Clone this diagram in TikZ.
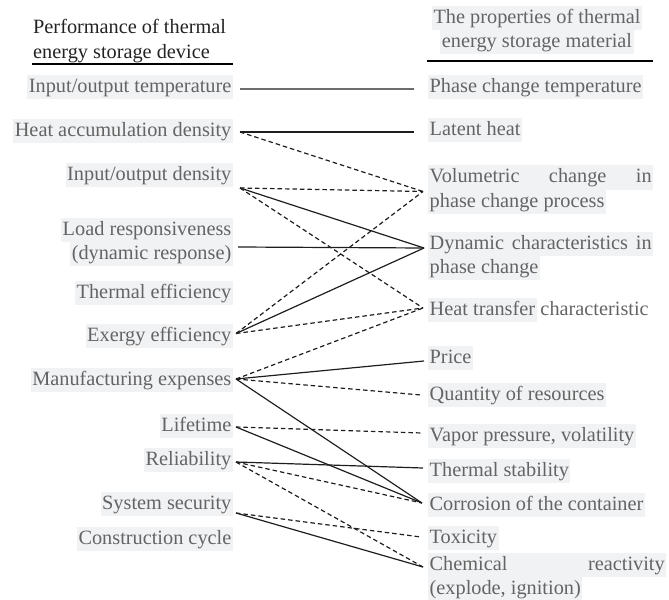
\documentclass[tikz,border=0pt]{standalone}
\usepackage{fontspec}
\setmainfont{Liberation Serif}
\usetikzlibrary{calc}
\definecolor{txt}{RGB}{100,100,100}
\definecolor{hdr}{RGB}{35,35,35}
\definecolor{hl}{RGB}{241,242,244}
\definecolor{ln}{RGB}{30,30,30}
\newcommand{\itemfont}{\fontsize{20.3bp}{24bp}\selectfont}
\tikzset{
  item/.style={fill=hl, text=txt, font=\itemfont, inner xsep=1.5bp, inner ysep=1bp, text height=16.5bp, text depth=5.5bp},
  lft/.style={item, anchor=east},
  rgt/.style={item, anchor=west},
  hd/.style={text=hdr, font=\itemfont, inner xsep=1bp, inner ysep=1bp, text height=16.5bp, text depth=5.5bp, anchor=west},
  link/.style={draw=ln, line width=1.2bp},
  dlink/.style={link, dash pattern=on 4.5bp off 3bp},
  rulebar/.style={draw=black, line width=2bp}
}
\begin{document}
\begin{tikzpicture}[x=1bp,y=-1bp]
\useasboundingbox (0,0) rectangle (669,600);
% headers
\node[hd] (hL1) at (32,28) {Performance of thermal};
\node[hd] (hL2) at (32,53) {energy storage device};
\node[item] (hR1) at (537,18.5) {The properties of thermal};
\node[item] (hR2) at (537,42.5) {energy storage material};
\draw[rulebar] (32,64.5) -- (233,64.5);
\draw[rulebar] (427,61) -- (653,61);
% left items
\node[lft] (l1) at (233,87) {Input/output temperature};
\node[lft] (l2) at (233,131) {Heat accumulation density};
\node[lft] (l3) at (233,175) {Input/output density};
\node[lft] (l4a) at (233,230) {Load responsiveness};
\node[lft] (l4b) at (233,253.5) {(dynamic response)};
\node[lft] (l5) at (233,292.5) {Thermal efficiency};
\node[lft] (l6) at (233,335.5) {Exergy efficiency};
\node[lft] (l7) at (233,379.5) {Manufacturing expenses};
\node[lft] (l8) at (233,425.5) {Lifetime};
\node[lft] (l9) at (233,459.5) {Reliability};
\node[lft] (l10) at (233,504) {System security};
\node[lft] (l11) at (233,538.5) {Construction cycle};
% right items
\node[rgt] (r1) at (428,87.5) {Phase change temperature};
\node[rgt] (r2) at (428,130) {Latent heat};
\node[rgt] (r3a) at (428,177.5) {\makebox[222bp][s]{Volumetric change in}};
\node[rgt] (r3b) at (428,201.5) {phase change process};
\node[rgt] (r4a) at (428,244) {\makebox[222bp][s]{Dynamic characteristics in}};
\node[rgt] (r4b) at (428,268) {phase change};
\node[rgt] (r5) at (428,310) {Heat transfer};
\node[anchor=base west, text=txt, font=\itemfont, inner xsep=0pt] (r5b) at ($(r5.base east)+(3.5,0)$) {characteristic};
\node[rgt] (r6) at (428,358) {Price};
\node[rgt] (r7) at (428,395) {Quantity of resources};
\node[rgt] (r8) at (428,435.5) {Vapor pressure, volatility};
\node[rgt] (r9) at (428,470.5) {Thermal stability};
\node[rgt] (r10) at (428,505) {Corrosion of the container};
\node[rgt] (r11) at (428,537.5) {Toxicity};
\node[rgt] (r12a) at (428,565) {\makebox[235bp][s]{Chemical reactivity}};
\node[rgt] (r12b) at (428,589) {(explode, ignition)};
% connection points
\coordinate (L1) at ($(l1.east)+(7,2)$);
\coordinate (L2) at ($(l2.east)+(7,1)$);
\coordinate (L3) at ($(l3.east)+(7,13)$);
\coordinate (L4) at ($(l4b.east)+(5,-6.5)$);
\coordinate (L6) at ($(l6.east)+(3,-2)$);
\coordinate (L7) at ($(l7.east)+(3,-0.5)$);
\coordinate (L8) at ($(l8.east)+(3,1.5)$);
\coordinate (L9) at ($(l9.east)+(3,2.5)$);
\coordinate (L10) at ($(l10.east)+(3,9)$);
\coordinate (R1) at ($(r1.west)+(-14,1.5)$);
\coordinate (R2) at ($(r2.west)+(-14,2)$);
\coordinate (R3) at ($(r3a.west)+(-5,14)$);
\coordinate (R4) at ($(r4a.west)+(-4,4)$);
\coordinate (R5) at ($(r5.west)+(-5,-2)$);
\coordinate (R6) at ($(r6.west)+(-4,3)$);
\coordinate (R7) at ($(r7.west)+(-7,0)$);
\coordinate (R8) at ($(r8.west)+(-6,-2.5)$);
\coordinate (R9) at ($(r9.west)+(-5,-2.5)$);
\coordinate (R10) at ($(r10.west)+(-6,-2)$);
\coordinate (R11) at ($(r11.west)+(-7,-0.5)$);
\coordinate (R12) at ($(r12a.west)+(-5,2)$);
% solid links
\draw[link] (L1) -- (R1);
\draw[link] (L2) -- (R2);
\draw[link] (L3) -- (R4);
\draw[link] (L4) -- (R4);
\draw[link] (L6) -- (R4);
\draw[link] (L7) -- (R6);
\draw[link] (L7) -- (R10);
\draw[link] (L8) -- (R10);
\draw[link] (L9) -- (R9);
\draw[link] (L10) -- (R12);
% dashed links
\draw[dlink] (L2) -- (R3);
\draw[dlink] (L3) -- (R3);
\draw[dlink] (L3) -- (R5);
\draw[dlink] (L6) -- (R3);
\draw[dlink] (L6) -- (R5);
\draw[dlink] (L7) -- (R5);
\draw[dlink] (L7) -- (R7);
\draw[dlink] (L8) -- (R8);
\draw[dlink] (L9) -- (R10);
\draw[dlink] (L9) -- (R12);
\draw[dlink] (L10) -- (R11);
\end{tikzpicture}
\end{document}
